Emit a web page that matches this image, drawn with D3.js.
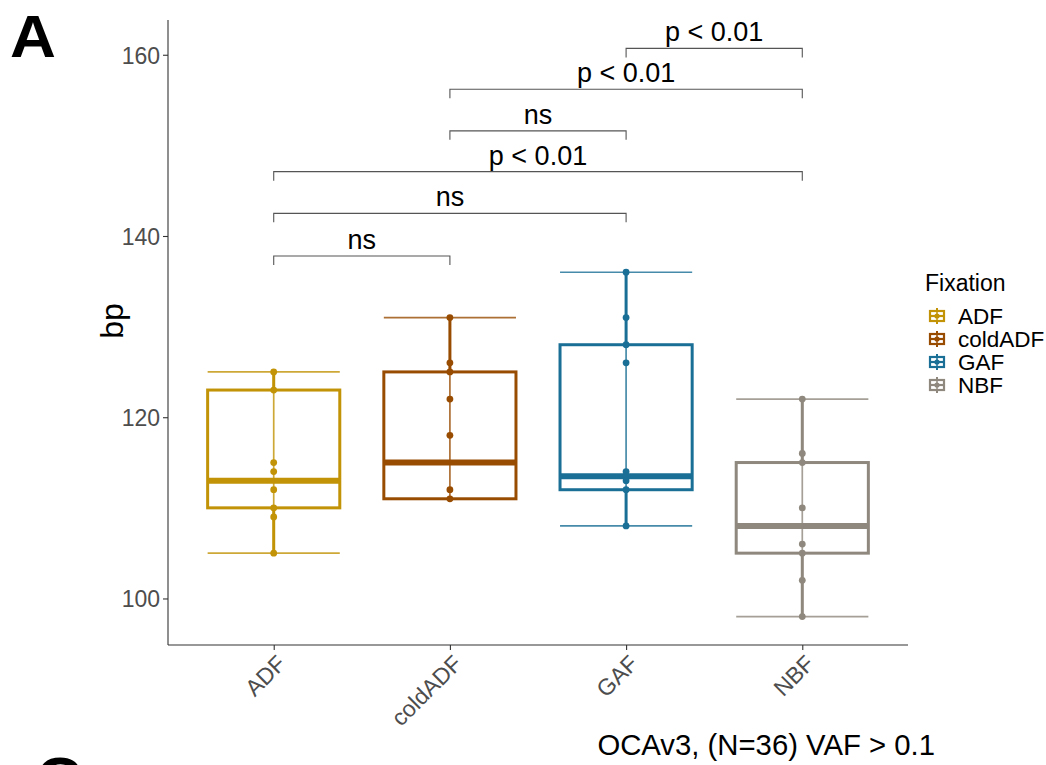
<!DOCTYPE html>
<html>
<head>
<meta charset="utf-8">
<script src="https://cdn.jsdelivr.net/npm/d3@7"></script>
<style>
  html, body { margin: 0; padding: 0; background: #fff; }
  svg { display: block; font-family: "Liberation Sans", Arial, Helvetica, sans-serif; }
</style>
</head>
<body>
<svg id="chart" width="1046" height="765"></svg>
<script>
// Fixation groups and their colours
const groups = ["ADF", "coldADF", "GAF", "NBF"];
const groupColors = ["#C29306", "#984C02", "#1A6F96", "#8F887E"];

// Individual measurements (bp) per fixation group
const adfValues = [125, 123, 115, 114, 112, 110, 109, 105];
const coldAdfValues = [131, 126, 125, 122, 118, 112, 111];
const gafValues = [136, 131, 128, 126, 114, 113.5, 113, 112, 108];
const nbfValues = [122, 116, 115, 110, 106, 105, 102, 98];

// Box statistics per group: lower whisker, Q1, median, Q3, upper whisker
const whiskerLow = [105, 111, 108, 98];
const quartile1 = [110, 111, 112, 105];
const medians = [113, 115, 113.5, 108];
const quartile3 = [123, 125, 128, 115];
const whiskerHigh = [125, 131, 136, 122];

// Pairwise comparison brackets
const pairFrom = ["ADF", "ADF", "ADF", "coldADF", "coldADF", "GAF"];
const pairTo = ["coldADF", "GAF", "NBF", "GAF", "NBF", "NBF"];
const pairLabels = ["ns", "ns", "p < 0.01", "ns", "p < 0.01", "p < 0.01"];
const pairLevels = [137.8, 142.5, 147.1, 151.6, 156.2, 160.7];

// Axis ticks
const yTicks = [100, 120, 140, 160];

const svg = d3.select("#chart");
const panel = { left: 168, right: 908, top: 20, bottom: 645 };

const values = [adfValues, coldAdfValues, gafValues, nbfValues];
const lo = d3.min(values.flat().concat(whiskerLow));
const hi = d3.max(pairLevels);
const pad = (hi - lo) * 0.05;

const x = d3.scalePoint().domain(groups).range([panel.left, panel.right]).padding(0.6);
const y = d3.scaleLinear().domain([lo - pad, hi + pad]).range([panel.bottom, panel.top]);
const color = d3.scaleOrdinal().domain(groups).range(groupColors);
const boxW = x.step() * 0.75;

// Panel letters
svg.append("text").attr("transform", "translate(10,57) scale(1.06,1)")
  .attr("font-size", 60).attr("font-weight", "bold").attr("fill", "#000").text("A");
svg.append("text").attr("transform", "translate(36,799) scale(1.06,1)")
  .attr("font-size", 60).attr("font-weight", "bold").attr("fill", "#000").text("C");

// Axes
const yAxis = svg.append("g").attr("transform", `translate(${panel.left},0)`)
  .call(d3.axisLeft(y).tickValues(yTicks).tickSize(5).tickPadding(3).tickFormat(d3.format("d")));
yAxis.select(".domain").attr("d", `M0,${panel.top}V${panel.bottom}`);
const xAxis = svg.append("g").attr("transform", `translate(0,${panel.bottom})`)
  .call(d3.axisBottom(x).tickSize(5).tickPadding(2));
xAxis.select(".domain").attr("d", `M${panel.left},0H${panel.right}`);

[yAxis, xAxis].forEach(g => {
  g.select(".domain").attr("stroke", "#333").attr("stroke-width", 1.1);
  g.selectAll(".tick line").attr("stroke", "#333").attr("stroke-width", 1.1);
  g.selectAll(".tick text").attr("fill", "#4D4D4D").attr("font-family", null);
});
yAxis.selectAll(".tick text").attr("font-size", 23).attr("dy", "0.36em");
xAxis.selectAll(".tick text")
  .attr("font-size", 23)
  .attr("text-anchor", "end")
  .attr("dy", null)
  .attr("transform", "translate(8,15) rotate(-45)");

// Axis titles
svg.append("text")
  .attr("transform", "translate(123,321) rotate(-90)")
  .attr("text-anchor", "middle").attr("font-size", 32).attr("fill", "#000").text("bp");
svg.append("text")
  .attr("x", 935).attr("y", 755).attr("text-anchor", "end")
  .attr("font-size", 29.3).attr("fill", "#000").text("OCAv3, (N=36) VAF > 0.1");

// Boxplots
const boxes = svg.append("g");
groups.forEach((g, i) => {
  const cx = x(g), c = color(g);
  const grp = boxes.append("g");
  // thick whiskers from box edges
  grp.append("line").attr("x1", cx).attr("x2", cx)
    .attr("y1", y(quartile3[i])).attr("y2", y(whiskerHigh[i]))
    .attr("stroke", c).attr("stroke-width", 3);
  grp.append("line").attr("x1", cx).attr("x2", cx)
    .attr("y1", y(quartile1[i])).attr("y2", y(whiskerLow[i]))
    .attr("stroke", c).attr("stroke-width", 3);
  // box
  grp.append("rect")
    .attr("x", cx - boxW / 2).attr("width", boxW)
    .attr("y", y(quartile3[i])).attr("height", y(quartile1[i]) - y(quartile3[i]))
    .attr("fill", "none").attr("stroke", c).attr("stroke-width", 3);
  // median
  grp.append("line")
    .attr("x1", cx - boxW / 2).attr("x2", cx + boxW / 2)
    .attr("y1", y(medians[i])).attr("y2", y(medians[i]))
    .attr("stroke", c).attr("stroke-width", 6);
  // error bar with caps (thin)
  const eb = grp.append("g").attr("stroke", c).attr("stroke-width", 1.7).attr("opacity", 0.8);
  eb.append("line").attr("x1", cx).attr("x2", cx)
    .attr("y1", y(whiskerLow[i])).attr("y2", y(whiskerHigh[i]));
  [whiskerLow[i], whiskerHigh[i]].forEach(v => {
    eb.append("line").attr("x1", cx - boxW / 2).attr("x2", cx + boxW / 2)
      .attr("y1", y(v)).attr("y2", y(v));
  });
  // points
  grp.selectAll("circle").data(values[i]).join("circle")
    .attr("cx", cx).attr("cy", d => y(d)).attr("r", 3.4).attr("fill", c);
});

// Comparison brackets
const br = svg.append("g");
const tip = 9;
pairLabels.forEach((lab, i) => {
  const x1 = x(pairFrom[i]), x2 = x(pairTo[i]), yy = y(pairLevels[i]);
  br.append("path")
    .attr("d", `M${x1},${yy + tip}V${yy}H${x2}V${yy + tip}`)
    .attr("fill", "none").attr("stroke", "#555").attr("stroke-width", 1.1);
  br.append("text").attr("x", (x1 + x2) / 2).attr("y", yy - 7)
    .attr("text-anchor", "middle").attr("font-size", 27).attr("fill", "#000").text(lab);
});

// Legend
const leg = svg.append("g");
leg.append("text").attr("x", 925).attr("y", 291)
  .attr("font-size", 23).attr("fill", "#000").text("Fixation");
groups.forEach((g, i) => {
  const cy = 316 + i * 23, kx = 937, c = color(g);
  const k = leg.append("g");
  k.append("line").attr("x1", kx).attr("x2", kx).attr("y1", cy - 8).attr("y2", cy + 8)
    .attr("stroke", c).attr("stroke-width", 2);
  k.append("rect").attr("x", kx - 7).attr("y", cy - 5).attr("width", 14).attr("height", 10)
    .attr("fill", "#fff").attr("stroke", c).attr("stroke-width", 2.2);
  k.append("line").attr("x1", kx - 7).attr("x2", kx + 7).attr("y1", cy).attr("y2", cy)
    .attr("stroke", c).attr("stroke-width", 2.2);
  k.append("line").attr("x1", kx).attr("x2", kx).attr("y1", cy - 5).attr("y2", cy + 5)
    .attr("stroke", c).attr("stroke-width", 1.5);
  k.append("circle").attr("cx", kx).attr("cy", cy).attr("r", 2.6).attr("fill", c);
  leg.append("text").attr("x", 958).attr("y", cy + 8)
    .attr("font-size", 22.5).attr("fill", "#000").text(g);
});
</script>
</body>
</html>
